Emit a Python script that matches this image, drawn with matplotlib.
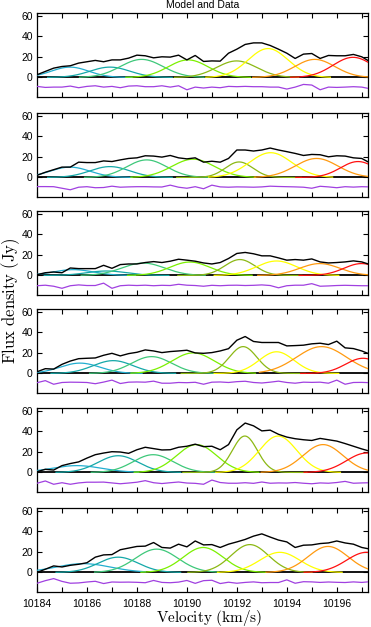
import numpy as np
import matplotlib
matplotlib.use("Agg")
import matplotlib.pyplot as plt

plt.rcParams['mathtext.fontset'] = 'cm'

# velocity grid of the data channels (km/s)
velocity = 10184 + np.arange(41) / 3.0

flux_1 = [2.6, 5.8, 9, 10.6, 11.3, 13.9, 15.2, 16.5, 15.2, 17, 17, 18.7, 21.6, 21, 19, 20, 19.7, 21.6,
          17, 21.3, 15.5, 16, 15.8, 23.5, 27.4, 32, 33.5, 33.5, 31, 27.4, 23.5, 18.4, 22.6, 23.2, 18.4,
          21.3, 21, 21, 22.3, 20, 15.2]
flux_2 = [2, 5, 7.5, 10, 10, 14.8, 14.4, 14.4, 16, 15.4, 17, 18.4, 19, 21, 20.7, 19.7, 21.3, 19, 18,
          19, 14.8, 15.7, 14.8, 18.4, 26.6, 26.6, 25.6, 26.6, 28.5, 26.6, 25, 23.3, 21.3, 22.3, 22, 20,
          21, 20.7, 19, 18.4, 14]
flux_3 = [0.7, 2.6, 3.3, 2.6, 7.2, 6.6, 6.6, 6.6, 9.8, 6.9, 10.5, 11.1, 11.1, 12.5, 13.4, 12.5, 13.8,
          15.7, 14.8, 13.8, 12.1, 11.1, 12.5, 16.4, 21.3, 22.3, 21, 19, 19, 17, 14.8, 15.4, 14.8, 16,
          13.1, 12.1, 12.5, 13.1, 14.1, 13.1, 10.5]
flux_4 = [1.6, 4.6, 4.2, 8.8, 12, 14.3, 14.7, 15, 17.6, 19.5, 17, 19.2, 20.5, 22.8, 21.8, 20.2, 21.2,
          21.8, 22.5, 19.9, 19.5, 20.2, 21.8, 24, 32.2, 35.8, 31, 30, 30, 30, 26.7, 27, 27.4, 28.7,
          29.3, 28, 31.3, 24.8, 24.1, 21.8, 18.6]
flux_5 = [0.7, 3, 2.3, 6.6, 8.6, 10.2, 13.9, 17.2, 18.8, 20.1, 19.8, 18.5, 22, 24.4, 23.1, 21.8, 22,
          24.4, 25.4, 27.4, 25, 25.4, 22, 27, 41.3, 47.9, 45.2, 40.3, 41, 37, 34.3, 32.7, 31.7, 31, 33,
          31.7, 30.4, 28, 25.4, 22.8, 20.5]
flux_6 = [0, 3.1, 6.3, 5.3, 6.9, 7.9, 9.4, 14.8, 17, 17.3, 22, 23.6, 25.2, 25.5, 29, 24.2, 23.6, 27.4,
          24.8, 30.5, 26.7, 27, 24.2, 27.4, 29.6, 32, 35.2, 37.4, 34.3, 31.4, 29.6, 24.2, 26.4, 26.7,
          28, 28.6, 30.5, 28.6, 27.4, 24.2, 22.6]

resid_1 = [-8.7, -9.7, -9.4, -9.4, -8.4, -10, -8.7, -8.1, -9.4, -8.7, -10, -8.4, -8.1, -9, -9, -8.1,
           -9.4, -8.1, -12, -9.4, -10.3, -9.4, -10, -8.7, -9, -8.7, -9, -9, -9.4, -9.4, -11.3, -9.4,
           -6.8, -7.4, -12, -9.4, -9.7, -9.4, -9, -9.4, -11]
resid_2 = [-8.9, -8.9, -9, -10.5, -12, -9.5, -9, -10, -9.8, -8.5, -9.5, -9.2, -9, -9, -9.2, -9.3, -7.5,
           -9.5, -10.5, -9, -11, -7.5, -9.2, -9.5, -9.2, -9.3, -9.5, -9.2, -8.5, -8.8, -9, -9.2, -9.5,
           -10.5, -8.6, -9.2, -10, -9, -9.4, -9, -9.2]
resid_3 = [-10, -9.5, -10.5, -12.5, -10, -9.2, -9.8, -9.8, -7.5, -12.5, -10, -9.5, -9.8, -9.5, -10,
           -9.6, -9.8, -8.6, -9.5, -9.8, -10.5, -9.6, -10, -9.6, -9.5, -9.8, -9.6, -9.2, -9.8, -12, -10,
           -9.5, -9.5, -8, -10.5, -10.2, -9.8, -9.6, -9.8, -10, -10]
resid_4 = [-9, -7, -10.5, -8.8, -8.5, -8.6, -8.8, -10, -8.4, -6.5, -9.8, -8.5, -8.3, -8.5, -7.5, -9.5,
           -9.5, -8.8, -9, -8.6, -10.5, -8.5, -8.3, -8.8, -8, -7.6, -8.8, -9.3, -8.5, -7.5, -8.8, -9.5,
           -8.5, -8.7, -8.5, -9.5, -6.5, -10.5, -8.8, -8.7, -9]
resid_5 = [-10.5, -8.3, -11.5, -10, -11.5, -10.2, -9.5, -9.5, -9.4, -10.2, -11, -10.3, -9.5, -8, -10,
           -10.8, -10, -9.3, -10.3, -10.6, -11.5, -7.4, -9.8, -10.5, -10.5, -10, -10.6, -9.3, -10.5,
           -10.2, -10.3, -9.8, -10.5, -11, -10.2, -10.5, -9.8, -8.7, -10.5, -10.2, -10]
resid_6 = [-10.5, -8, -6, -8.7, -10.5, -10.2, -9.3, -8.6, -10.8, -9.3, -9.5, -9.4, -9.6, -10, -7.8,
           -9.7, -10, -9.4, -7.8, -10.6, -8, -7.6, -10.8, -9.5, -10.5, -9.7, -9.2, -10, -9.8, -9.8,
           -7.2, -10.5, -9, -9.2, -9.7, -9.3, -9.6, -9.8, -9.2, -9.7, -9]

# Gaussian components per panel: centre (km/s), peak (Jy), sigma (km/s)
comp_colors = ['#22aed0', '#14a8a8', '#3ec87a', '#7cf000', '#8cb814', '#ffff00', '#ff9a10', '#ff1010']
centre_1 = [10185.32, 10186.92, 10188.19, 10190.05, 10191.99, 10193.25, 10195.12, 10196.65]
peak_1 = [10, 10, 17.5, 17, 16, 28, 17.5, 19.5]
sigma_1 = [0.75, 0.8, 0.85, 0.8, 0.8, 0.8, 0.8, 0.8]
centre_2 = [10185.32, 10186.92, 10188.39, 10190.25, 10192.09, 10193.35, 10195.19, 10196.85]
peak_2 = [10, 10.5, 17, 17.7, 15, 24, 18.4, 15.4]
sigma_2 = [0.8, 0.8, 0.8, 0.85, 0.55, 0.85, 0.85, 0.7]
centre_3 = [10185.45, 10186.79, 10188.25, 10190.12, 10192.12, 10193.59, 10195.32, 10196.99]
peak_3 = [5.6, 4.3, 12, 13, 15.4, 14, 11.5, 11.5]
sigma_3 = [0.8, 0.8, 0.85, 0.8, 0.6, 0.8, 0.8, 0.7]
centre_4 = [10185.72, 10187.05, 10188.59, 10190.25, 10192.25, 10193.59, 10195.39, 10197.05]
peak_4 = [10, 12.4, 16.3, 19.9, 26, 21, 26, 14.7]
sigma_4 = [0.8, 0.8, 0.8, 0.85, 0.55, 0.7, 1.0, 0.7]
centre_5 = [10185.59, 10187.25, 10188.65, 10190.39, 10192.32, 10193.65, 10195.45, 10197.19]
peak_5 = [6.6, 16.2, 17.2, 27, 35.3, 35.3, 27, 18.8]
sigma_5 = [1.0, 0.8, 0.8, 0.8, 0.5, 0.75, 0.8, 0.8]
centre_6 = [10185.85, 10187.25, 10188.79, 10190.65, 10192.52, 10193.72, 10195.65, 10197.19]
peak_6 = [8.5, 14.8, 22.6, 24.2, 27, 19.5, 25.2, 19.5]
sigma_6 = [1.1, 0.8, 0.85, 0.8, 0.75, 0.8, 0.8, 0.8]

fluxes = [flux_1, flux_2, flux_3, flux_4, flux_5, flux_6]
resids = [resid_1, resid_2, resid_3, resid_4, resid_5, resid_6]
centres = [centre_1, centre_2, centre_3, centre_4, centre_5, centre_6]
peaks = [peak_1, peak_2, peak_3, peak_4, peak_5, peak_6]
sigmas = [sigma_1, sigma_2, sigma_3, sigma_4, sigma_5, sigma_6]

y_ticks = [0, 20, 40, 60]
x_ticks = list(range(10184, 10198))

W, H = 371, 627
fig = plt.figure(figsize=(W / 100, H / 100), dpi=100)
tops = [13, 113, 211, 309, 408, 508]
ph = 84
left, right = 37, 368
tickfont = dict(family='Liberation Sans', size=7.5)

for i in range(6):
    ax = fig.add_axes([left / W, 1 - (tops[i] + ph) / H, (right - left) / W, ph / H])
    ax.set_xlim(10184, 10197.25)
    ax.set_ylim(-19, 62.5)
    ax.axhline(0, color='black', lw=1.3, zorder=2)
    fine = np.linspace(10184, 10197.4, 600)
    for c, a, s, col in zip(centres[i], peaks[i], sigmas[i], comp_colors):
        m = (fine >= c - 2.5) & (fine <= c + 2.5)
        xv = fine[m]
        ax.plot(xv, a * np.exp(-0.5 * ((xv - c) / s) ** 2), color=col, lw=0.9, zorder=3)
    ax.plot(velocity, fluxes[i], color='black', lw=1.0, zorder=4)
    ax.plot(velocity, resids[i], color='#a040e0', lw=0.9, zorder=4)
    ax.set_yticks(y_ticks)
    ax.set_xticks(x_ticks)
    ax.tick_params(direction='in', top=True, right=True, length=3.5, width=0.8, pad=3)
    for sp in ax.spines.values():
        sp.set_linewidth(0.9)
    ax.set_yticklabels([str(t) for t in y_ticks], fontdict=tickfont)
    if i == 5:
        ax.set_xticklabels([str(t) if t % 2 == 0 else '' for t in x_ticks], fontdict=tickfont)
        ax.tick_params(axis='x', pad=5)
    else:
        ax.set_xticklabels([])

fig.text((left + right) / 2 / W, 1 - 5 / H, 'Model and Data', ha='center', va='center',
         family='Liberation Sans', fontsize=7.5)
fig.text(209 / W, 1 - 618 / H, r'$\mathrm{Velocity\ (km/s)}$', ha='center', va='center', fontsize=11)
fig.text(11 / W, 1 - 301 / H, r'$\mathrm{Flux\ density\ (Jy)}$', ha='center', va='center',
         rotation=90, fontsize=12)

fig.savefig('out.png', dpi=100)
